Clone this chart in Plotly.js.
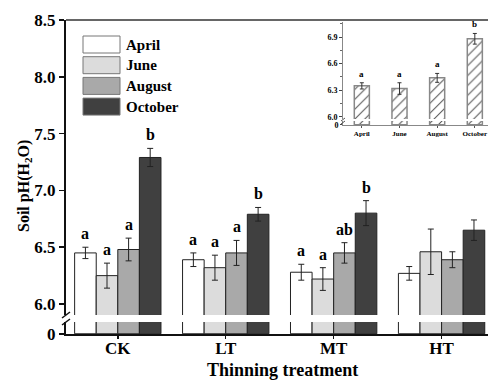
<!DOCTYPE html>
<html>
<head>
<meta charset="utf-8">
<script src="https://cdn.plot.ly/plotly-3.0.1.min.js"></script>
<style>html,body{margin:0;padding:0;background:#fff;}#chart{width:488px;height:381px;}</style>
</head>
<body>
<div id="chart"></div>
<script>
// ---- data ----
const treatments = ['CK', 'LT', 'MT', 'HT'];
const months = ['April', 'June', 'August', 'October'];
const pH_April   = [6.45, 6.39, 6.28, 6.27];
const pH_June    = [6.25, 6.32, 6.22, 6.46];
const pH_August  = [6.48, 6.45, 6.45, 6.39];
const pH_October = [7.29, 6.79, 6.80, 6.65];
const se_April   = [0.05, 0.06, 0.07, 0.06];
const se_June    = [0.11, 0.11, 0.10, 0.20];
const se_August  = [0.10, 0.11, 0.09, 0.07];
const se_October = [0.08, 0.06, 0.11, 0.09];
const sig_April   = ['a', 'a', 'a', ''];
const sig_June    = ['a', 'a', 'a', ''];
const sig_August  = ['a', 'a', 'ab', ''];
const sig_October = ['b', 'b', 'b', ''];
// inset: monthly means
const insetMonths = ['April', 'June', 'August', 'October'];
const insetPH = [6.35, 6.32, 6.44, 6.88];
const insetSE = [0.035, 0.065, 0.05, 0.06];
const insetSig = ['a', 'a', 'a', 'b'];

// ---- styling ----
const colors = ['#ffffff', '#dcdcdc', '#a9a9a9', '#404040'];
const FONT = 'Liberation Serif, Times New Roman, serif';
const values = [pH_April, pH_June, pH_August, pH_October];
const errs = [se_April, se_June, se_August, se_October];
const sigs = [sig_April, sig_June, sig_August, sig_October];

// geometry helpers (pixel -> paper)
const L = 66, R = 488, T = 20, B = 334;
const px = x => (x - L) / (R - L);
const py = y => (B - y) / (B - T);

const traces = [];
const annotations = [];
const shapes = [];

months.forEach((m, i) => {
  const common = {
    type: 'bar', x: treatments, y: values[i], name: m,
    marker: {color: colors[i], line: {color: '#222', width: 1}},
    showlegend: false, hoverinfo: 'skip'
  };
  traces.push(Object.assign({}, common, {
    xaxis: 'x', yaxis: 'y',
    error_y: {type: 'data', array: errs[i], visible: true, color: '#222', thickness: 1, width: 3}
  }));
  traces.push(Object.assign({}, common, {xaxis: 'x', yaxis: 'y2'}));
  const off = -0.3 + 0.2 * i;
  treatments.forEach((t, j) => {
    if (sigs[i][j]) {
      annotations.push({
        xref: 'x', yref: 'y', x: j + off, y: values[i][j] + errs[i][j],
        yanchor: 'bottom', yshift: 3, showarrow: false, text: sigs[i][j],
        font: {family: FONT, size: 16, color: '#000', weight: 'bold'}
      });
    }
  });
  // custom legend
  const top = 36 + i * 20.7;
  shapes.push({type: 'rect', xref: 'paper', yref: 'paper',
    x0: px(83), x1: px(120), y0: py(top + 17), y1: py(top),
    fillcolor: colors[i], line: {color: '#777', width: 1}});
  annotations.push({xref: 'paper', yref: 'paper', x: px(124), y: py(top + 8.5),
    xanchor: 'left', yanchor: 'middle', showarrow: false, text: m,
    font: {family: FONT, size: 15, color: '#000', weight: 'bold'}});
});

// inset traces
const insetCommon = {
  type: 'bar', x: insetMonths, y: insetPH, width: 0.4, showlegend: false, hoverinfo: 'skip',
  marker: {color: '#fff', line: {color: '#888', width: 1.5},
           pattern: {shape: '/', fgcolor: '#555', bgcolor: '#fff', size: 7, solidity: 0.15}}
};
traces.push(Object.assign({}, insetCommon, {xaxis: 'x2', yaxis: 'y3',
  error_y: {type: 'data', array: insetSE, visible: true, color: '#333', thickness: 1, width: 2}}));
traces.push(Object.assign({}, insetCommon, {xaxis: 'x2', yaxis: 'y4'}));
insetMonths.forEach((m, j) => {
  annotations.push({xref: 'x2', yref: 'y3', x: j, y: insetPH[j] + insetSE[j],
    yanchor: 'bottom', yshift: 2, showarrow: false, text: insetSig[j],
    font: {family: FONT, size: 9, color: '#000', weight: 'bold'}});
});

// axis titles
annotations.push({xref: 'paper', yref: 'paper', x: px(24), y: py(186), textangle: -90,
  xanchor: 'center', yanchor: 'middle',
  showarrow: false, text: 'Soil pH(H<sub>2</sub>O)',
  font: {family: FONT, size: 16, color: '#000', weight: 'bold'}});
annotations.push({xref: 'paper', yref: 'paper', x: px(282), y: py(370),
  xanchor: 'center', yanchor: 'middle',
  showarrow: false, text: 'Thinning treatment',
  font: {family: FONT, size: 18, color: '#000', weight: 'bold'}});

// top frame line
shapes.push({type: 'line', xref: 'paper', yref: 'paper', x0: 0, x1: 1, y0: 1, y1: 1,
  line: {color: '#333', width: 1.5}});
// axis break marks (main)
[[318, 312], [325, 319]].forEach(([a, b]) => {
  shapes.push({type: 'line', xref: 'paper', yref: 'paper', xsizemode: 'pixel', xanchor: 0,
    x0: -4, x1: 4, y0: py(a), y1: py(b), line: {color: '#111', width: 1.5}});
});
// inset break marks
[[121, 118], [124, 121]].forEach(([a, b]) => {
  shapes.push({type: 'line', xref: 'paper', yref: 'paper', xsizemode: 'pixel', xanchor: px(343),
    x0: -2, x1: 2, y0: py(a), y1: py(b), line: {color: '#555', width: 1}});
});

const tickFont = {family: FONT, size: 17, color: '#000', weight: 'bold'};
const smallFont = {family: FONT, size: 8, color: '#000', weight: 'bold'};

const layout = {
  width: 488, height: 381,
  margin: {l: L, r: 488 - R, t: T, b: 381 - B},
  paper_bgcolor: '#fff', plot_bgcolor: 'rgba(0,0,0,0)',
  barmode: 'group', bargap: 0.2, bargroupgap: 0,
  showlegend: false,
  xaxis: {domain: [0, 1], anchor: 'y2', range: [-0.48, 3.43], type: 'category',
    showline: true, linewidth: 2, linecolor: '#111', ticks: 'outside', ticklen: 3,
    tickwidth: 1.5, tickcolor: '#111', tickfont: tickFont, ticklabelstandoff: -5,
    showgrid: false, zeroline: false},
  yaxis: {domain: [py(315), 1], anchor: 'x', range: [5.9035, 8.5], tick0: 6.0, dtick: 0.5,
    tickformat: '.1f', showline: true, linewidth: 2, linecolor: '#111', ticks: 'outside',
    ticklen: 5, tickwidth: 1.5, tickcolor: '#111', tickfont: tickFont, showgrid: false,
    zeroline: false},
  yaxis2: {domain: [0, py(322)], anchor: 'x', range: [-0.02, 1], tickvals: [0], ticktext: ['0'],
    showline: true, linewidth: 2, linecolor: '#111', ticks: 'outside', ticklen: 5,
    tickwidth: 1.5, tickcolor: '#111', tickfont: tickFont, showgrid: false, zeroline: false},
  xaxis2: {domain: [px(343), 1], anchor: 'y4', range: [-0.5, 3.35], type: 'category',
    showline: true, linewidth: 1, linecolor: '#888', ticks: 'outside', ticklen: 2,
    tickcolor: '#555', tickfont: {family: FONT, size: 7, color: '#000', weight: 'bold'},
    showgrid: false, zeroline: false},
  yaxis3: {domain: [py(119), py(22)], anchor: 'x2', range: [5.977, 7.069], tick0: 6.0, dtick: 0.3,
    tickformat: '.1f', showline: true, linewidth: 1, linecolor: '#888', ticks: 'outside',
    ticklen: 3, tickcolor: '#444', tickfont: smallFont, showgrid: false, zeroline: false,
    minor: {dtick: 0.15, tick0: 6.0, ticks: 'outside', ticklen: 2, tickcolor: '#666'}},
  yaxis4: {domain: [py(125), py(121)], anchor: 'x2', range: [-0.05, 1], tickvals: [0], ticktext: ['0'],
    showline: true, linewidth: 1, linecolor: '#888', ticks: 'outside', ticklen: 2,
    tickcolor: '#444', tickfont: smallFont, showgrid: false, zeroline: false},
  annotations: annotations,
  shapes: shapes
};

Plotly.newPlot('chart', traces, layout, {displayModeBar: false, staticPlot: true});
</script>
</body>
</html>
